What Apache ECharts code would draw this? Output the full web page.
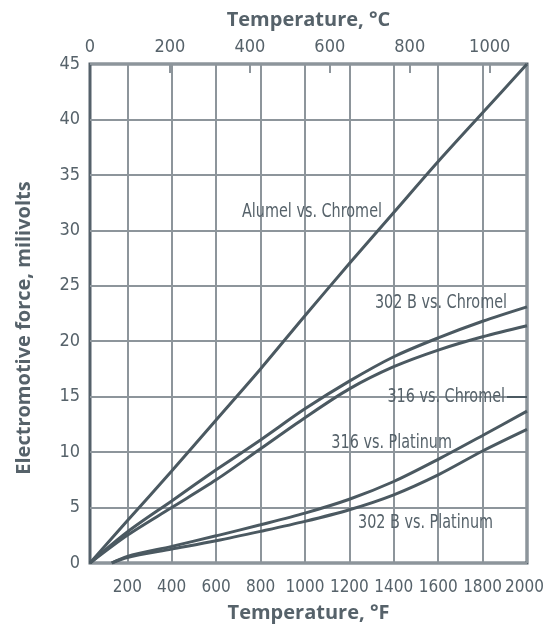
<!DOCTYPE html>
<html>
<head>
<meta charset="utf-8">
<script src="https://cdn.jsdelivr.net/npm/echarts@6/dist/echarts.min.js"></script>
<style>
  html, body { margin: 0; padding: 0; background: #fff; }
  #chart { width: 544px; height: 628px; }
</style>
</head>
<body>
<div id="chart"></div>
<script>
// Temperature axis (°F) ticks and the matching °C ticks on top
const fTicks = [200, 400, 600, 800, 1000, 1200, 1400, 1600, 1800, 2000];
const cLabels = [0, 200, 400, 600, 800, 1000];
const cTicks = [200, 400, 600, 800, 1000];
const fMin = 32, fMax = 2000;

// Thermoelectric output, millivolts, at temperature (°F)
const alumelChromel = [[32, 0], [200, 3.8], [400, 8.3], [600, 12.9], [800, 17.5], [1000, 22.3], [1200, 27.0], [1400, 31.6], [1600, 36.2], [1800, 40.6], [2000, 45.0]];
const b302Chromel = [[32, 0], [200, 2.8], [400, 5.6], [600, 8.4], [800, 11.1], [1000, 13.9], [1200, 16.4], [1400, 18.6], [1600, 20.3], [1800, 21.8], [2000, 23.1]];
const s316Chromel = [[32, 0], [200, 2.5], [400, 5.0], [600, 7.5], [800, 10.3], [1000, 13.1], [1200, 15.7], [1400, 17.7], [1600, 19.2], [1800, 20.4], [2000, 21.4]];
const s316Platinum = [[130, 0], [200, 0.6], [400, 1.5], [600, 2.45], [800, 3.45], [1000, 4.5], [1200, 5.75], [1400, 7.35], [1600, 9.35], [1800, 11.5], [2000, 13.7]];
const b302Platinum = [[130, 0], [200, 0.5], [400, 1.25], [600, 2.0], [800, 2.85], [1000, 3.75], [1200, 4.8], [1400, 6.15], [1600, 7.95], [1800, 10.1], [2000, 12.05]];

const LINE = '#4b5961';
const AXIS = '#55616a';
const GRID = '#8d959b';
const TEXT = '#56626a';
const NARROW = '"Liberation Sans Narrow", "DejaVu Sans Condensed", "Noto Sans", sans-serif';
const BOLD = '"Open Sans", "Noto Sans", sans-serif';

const fToC = f => (f - 32) / 1.8;
const plain = v => String(Math.round(v));
// the last °F label is nudged inward so it stays on the page
const fLabel = v => (Math.round(v) === fMax ? '{last|' + Math.round(v) + '}' : String(Math.round(v)));

function curve(name, data) {
  return {
    name, type: 'line', data, smooth: 0.3, symbol: 'none',
    xAxisIndex: 0, yAxisIndex: 0,
    lineStyle: { color: LINE, width: 3 }, z: 5
  };
}

const titleStyle = { fontFamily: BOLD, fontWeight: 'bold', fontSize: 20, color: TEXT };
const tickStyle = { fontFamily: NARROW, fontSize: 18, color: TEXT };
const fTickStyle = { fontFamily: NARROW, fontSize: 17, color: TEXT };

const chart = echarts.init(document.getElementById('chart'), null, { renderer: 'canvas' });

chart.setOption({
  animation: false,
  grid: {
    left: 90, right: 17, top: 64, bottom: 65,
    outerBoundsMode: 'none', containLabel: false,
    show: true, borderColor: AXIS, borderWidth: 3, backgroundColor: 'transparent'
  },
  xAxis: [
    {
      type: 'value', position: 'bottom', min: fMin, max: fMax,
      name: 'Temperature, °F', nameLocation: 'middle', nameGap: 40,
      nameTextStyle: titleStyle,
      axisLine: { show: false },
      axisTick: { show: false, customValues: fTicks },
      axisLabel: Object.assign({
        customValues: fTicks, interval: 0, margin: 16, showMaxLabel: true, hideOverlap: false, formatter: fLabel,
        rich: { last: Object.assign({ padding: [0, 5, 0, 0] }, fTickStyle) }
      }, fTickStyle),
      splitLine: { show: true, lineStyle: { color: GRID, width: 2 } }
    },
    {
      type: 'value', position: 'top', min: 0, max: fToC(fMax),
      name: 'Temperature, °C', nameLocation: 'middle', nameGap: 34,
      nameTextStyle: titleStyle,
      axisLine: { show: false },
      axisTick: { show: true, inside: true, length: 9, customValues: cTicks, lineStyle: { color: GRID, width: 2 } },
      axisLabel: Object.assign({ customValues: cLabels, interval: 0, margin: 8, formatter: plain }, tickStyle),
      splitLine: { show: false }
    }
  ],
  yAxis: {
    type: 'value', min: 0, max: 45, interval: 5,
    axisLine: { show: false }, axisTick: { show: false },
    axisLabel: Object.assign({ margin: 10 }, tickStyle),
    splitLine: { show: true, lineStyle: { color: GRID, width: 2 } }
  },
  series: [
    curve('Alumel vs. Chromel', alumelChromel),
    curve('302 B vs. Chromel', b302Chromel),
    Object.assign(curve('316 vs. Chromel', s316Chromel), {
      markLine: {
        silent: true, symbol: 'none', label: { show: false },
        lineStyle: { color: LINE, width: 2, type: 'solid' },
        data: [[{ coord: [1910, 15] }, { coord: [2000, 15] }]]
      }
    }),
    curve('316 vs. Platinum', s316Platinum),
    curve('302 B vs. Platinum', b302Platinum)
  ]
});

// Curve names, anchored in data space (right end of each name)
const curveLabels = [
  { text: 'Alumel vs. Chromel', at: [1347, 31.65] },
  { text: '302 B vs. Chromel', at: [1910, 23.45] },
  { text: '316 vs. Chromel', at: [1901, 14.97] },
  { text: '316 vs. Platinum', at: [1662, 10.82] },
  { text: '302 B vs. Platinum', at: [1847, 3.6] }
];
chart.setOption({
  graphic: curveLabels.map(l => {
    const p = chart.convertToPixel({ xAxisIndex: 0, yAxisIndex: 0 }, l.at);
    return {
      type: 'text', x: p[0], y: p[1], scaleX: 0.8, z: 10,
      style: { text: l.text, align: 'right', verticalAlign: 'middle', fontFamily: NARROW, fontSize: 20, fill: TEXT }
    };
  }).concat([{
    type: 'text', x: 24, y: 328, rotation: Math.PI / 2, z: 10,
    style: { text: 'Electromotive force, milivolts', align: 'center', verticalAlign: 'middle', fontFamily: BOLD, fontWeight: 'bold', fontSize: 20, fill: TEXT }
  }])
});
</script>
</body>
</html>
